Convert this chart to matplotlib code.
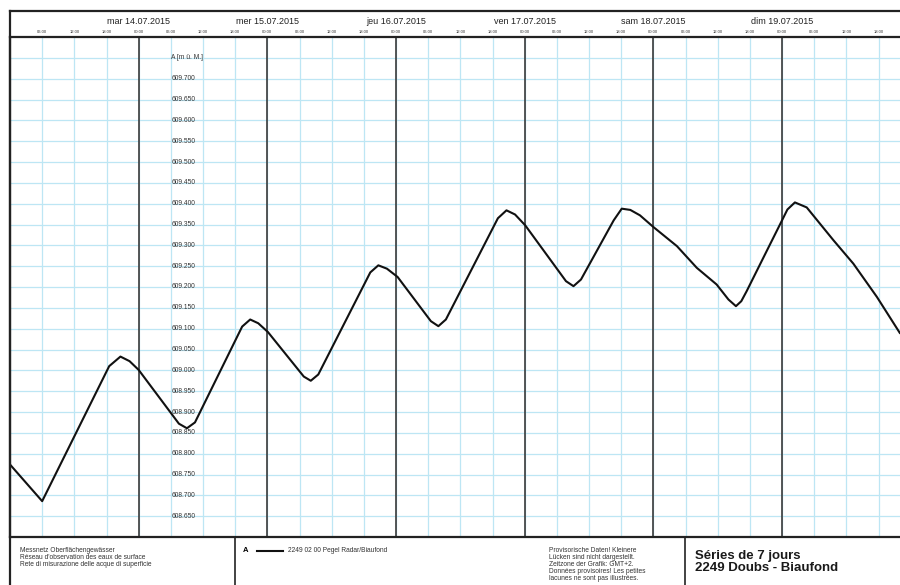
import matplotlib
matplotlib.use("Agg")
import matplotlib.pyplot as plt
from matplotlib.lines import Line2D

plt.rcParams["font.family"] = ["Liberation Sans", "DejaVu Sans"]

# hours since Mon 13.07.2015 00:00 (GMT+2)
hours = [0.0, 6.0, 18.5, 20.6, 22.3, 24.0, 31.5, 33.0, 34.5,
         43.3, 44.8, 46.3, 48.1, 54.8, 56.1, 57.5, 67.2, 68.7, 70.3,
         72.3, 78.5, 79.9, 81.3, 91.0, 92.6, 94.2, 96.1, 103.7, 105.1,
         106.5, 112.6, 114.1, 115.7, 117.5, 120.0, 124.4, 128.1, 131.8, 134.0,
         135.4, 136.4, 137.4, 141.2, 144.0, 145.0, 146.4, 148.6, 153.6, 157.3,
         161.7, 166.0]
level = [608.774, 608.686, 609.010, 609.033, 609.022, 609.001, 608.872, 608.861, 608.875,
         609.105, 609.122, 609.113, 609.092, 608.985, 608.975, 608.990, 609.235, 609.252, 609.244,
         609.224, 609.118, 609.106, 609.122, 609.365, 609.384, 609.374, 609.348, 609.214, 609.202,
         609.218, 609.360, 609.388, 609.385, 609.372, 609.344, 609.298, 609.246, 609.206, 609.170,
         609.154, 609.166, 609.190, 609.288, 609.360, 609.386, 609.403, 609.391, 609.312, 609.256,
         609.176, 609.089]

day_hours = [24, 48, 72, 96, 120, 144]
day_labels = ["mar 14.07.2015", "mer 15.07.2015", "jeu 16.07.2015",
              "ven 17.07.2015", "sam 18.07.2015", "dim 19.07.2015"]
hour_ticks = list(range(6, 163, 6))
hour_labels = ["%02d:00" % (h % 24) for h in hour_ticks]
y_ticks = [round(608.65 + 0.05 * i, 3) for i in range(23)]
y_unit = "A [m ü. M.]"

station_lines = ["Messnetz Oberflächengewässer",
                 "Réseau d'observation des eaux de surface",
                 "Rete di misurazione delle acque di superficie"]
legend_label = "2249 02 00 Pegel Radar/Biaufond"
note_lines = ["Provisorische Daten! Kleinere",
              "Lücken sind nicht dargestellt.",
              "Zeitzone der Grafik: GMT+2.",
              "Données provisoires! Les petites",
              "lacunes ne sont pas illustrées."]
title_lines = ["Séries de 7 jours", "2249 Doubs - Biaufond"]

W, H = 900, 585
fig = plt.figure(figsize=(9, 5.85), dpi=100)


def fx(px):
    return px / W


def fy(py):
    return 1 - py / H


ax = fig.add_axes([fx(10), fy(537), fx(900) - fx(10), fy(37) - fy(537)])
ax.set_xlim(0, 166)
ax.set_ylim(608.60, 609.80)

grid_c = "#bde6f4"
ax.set_yticks(y_ticks)
ax.set_xticks(hour_ticks)
ax.grid(True, color=grid_c, lw=0.9)
ax.set_axisbelow(True)
ax.tick_params(axis="y", left=False, labelleft=False)
ax.tick_params(axis="x", bottom=False, labelbottom=False, top=False, labeltop=True,
               length=0, pad=2.5, labelsize=3, labelcolor="#333333")
ax.set_xticklabels(hour_labels)

for d in day_hours:
    ax.axvline(d, color="#3a3a3a", lw=1.2, zorder=1.5)

ax.plot(hours, level, color="#111111", lw=1.5, zorder=3,
        solid_joinstyle="round", solid_capstyle="round")

for v in y_ticks[:-1]:
    ax.text(30.1, v, "%.3f" % v, fontsize=4.8, color="#333333", va="center", ha="left")
ax.text(30.1, y_ticks[-1], y_unit, fontsize=4.8, color="#333333", va="center", ha="left")

for d, lab in zip(day_hours, day_labels):
    ax.text(d, 1.032, lab, transform=ax.get_xaxis_transform(), ha="center", va="center",
            fontsize=6.5, color="#222222", clip_on=False)

for side in ["top", "bottom", "left"]:
    ax.spines[side].set_linewidth(1.6)
    ax.spines[side].set_color("#222222")
ax.spines["right"].set_visible(False)

# frame lines of the sheet
fig.add_artist(Line2D([fx(10), 1], [fy(11), fy(11)], color="#222222", lw=1.6))
fig.add_artist(Line2D([fx(10), fx(10)], [fy(11), 0], color="#222222", lw=1.6))
fig.add_artist(Line2D([fx(235), fx(235)], [fy(537), 0], color="#222222", lw=1.2))
fig.add_artist(Line2D([fx(685), fx(685)], [fy(537), 0], color="#222222", lw=1.2))

# footer
for i, s in enumerate(station_lines):
    fig.text(fx(20), fy(550.5 + 7 * i), s, fontsize=4.8, color="#333333", va="center")
fig.text(fx(243), fy(551), "A", fontsize=5.5, weight="bold", va="center")
fig.add_artist(Line2D([fx(257), fx(283)], [fy(551), fy(551)], color="#111111", lw=1.5))
fig.text(fx(288), fy(550.5), legend_label, fontsize=4.8, color="#333333", va="center")
for i, s in enumerate(note_lines):
    fig.text(fx(549), fy(550.5 + 7 * i), s, fontsize=4.8, color="#333333", va="center")
for i, s in enumerate(title_lines):
    fig.text(fx(695), fy(555.5 + 12.5 * i), s, fontsize=9.5, weight="bold", color="#1a1a1a",
             va="center")

fig.savefig("out.png", dpi=100)
